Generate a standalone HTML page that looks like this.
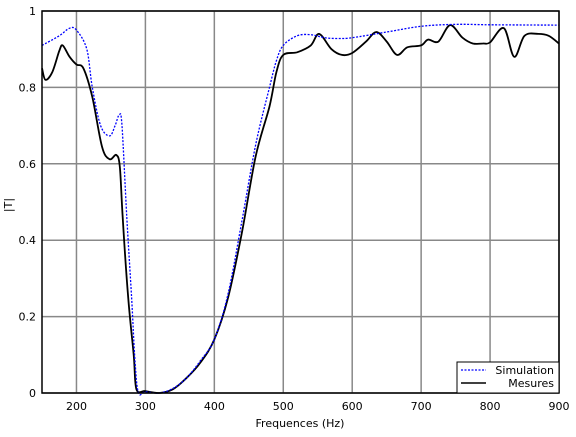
<!DOCTYPE html>
<html><head><meta charset="utf-8"><style>
html,body{margin:0;padding:0;background:#fff;}
svg text{font-family:"DejaVu Sans","Liberation Sans",sans-serif;font-size:11px;fill:#000;}
</style></head><body>
<svg id="chart" width="576" height="432" viewBox="0 0 576 432">
<g id="grid"></g>
<g id="series"></g>
<rect x="42" y="11" width="517" height="382" fill="none" stroke="#000" stroke-width="1.5"/>
<g id="ticks"></g>
<text x="300" y="427" text-anchor="middle">Frequences (Hz)</text>
<text x="12" y="205" text-anchor="middle" transform="rotate(-90 12 205)">|T|</text>
<g>
<rect x="457" y="362" width="102" height="31" fill="#fff" stroke="#000" stroke-width="1"/>
<line x1="461" y1="370" x2="486" y2="370" stroke="#0000ff" stroke-width="1.3" stroke-dasharray="2,1.5"/>
<text x="554" y="374" text-anchor="end">Simulation</text>
<line x1="461" y1="383" x2="486" y2="383" stroke="#000" stroke-width="1.5"/>
<text x="554" y="387" text-anchor="end">Mesures</text>
</g>
</svg>
<script>
const xTicks=[200,300,400,500,600,700,800,900];
const xTickLabels=["200","300","400","500","600","700","800","900"];
const yTicks=[0,0.2,0.4,0.6,0.8,1];
const yTickLabels=["0","0.2","0.4","0.6","0.8","1"];
const simFreq=[150,175,190,200,215,223,235,248,256,262,266,273,280,285,290,300,320,340,360,380,400,420,440,460,480,490,500,520,540,560,580,600,650,700,750,800,900];
const simVal=[0.91,0.935,0.955,0.95,0.90,0.80,0.70,0.673,0.70,0.728,0.70,0.46,0.25,0.08,0.0,0.003,0.0,0.012,0.04,0.085,0.14,0.26,0.45,0.65,0.80,0.87,0.91,0.935,0.938,0.93,0.928,0.93,0.945,0.96,0.965,0.964,0.963];
const mesFreq=[150,155,165,175,180,190,200,210,223,237,248,258,263,267,275,283,287,300,320,340,360,380,400,420,440,460,480,490,500,520,540,552,570,585,600,620,635,650,665,680,700,710,725,742,760,775,790,800,820,835,850,870,885,900];
const mesVal=[0.85,0.82,0.84,0.895,0.91,0.88,0.86,0.85,0.775,0.645,0.612,0.623,0.59,0.46,0.25,0.10,0.01,0.005,0.0,0.01,0.04,0.08,0.14,0.25,0.42,0.62,0.75,0.84,0.885,0.892,0.91,0.94,0.90,0.885,0.89,0.92,0.945,0.92,0.885,0.905,0.91,0.925,0.92,0.963,0.93,0.915,0.915,0.918,0.955,0.88,0.935,0.94,0.935,0.915];
const X0=42,X1=559,Y0=393,Y1=11;
function sx(f){return X0+(f-150)/(900-150)*(X1-X0);}
function sy(v){return Y0-v*(Y0-Y1);}
const NS="http://www.w3.org/2000/svg";
const grid=document.getElementById('grid'),ticks=document.getElementById('ticks'),ser=document.getElementById('series');
function mk(tag,attrs,parent){const e=document.createElementNS(NS,tag);for(const k in attrs)e.setAttribute(k,attrs[k]);parent.appendChild(e);return e;}
xTicks.forEach((t,i)=>{
 const g=mk('line',{x1:sx(t),x2:sx(t),y1:Y1,y2:Y0,stroke:'#888','stroke-width':1.5},grid);
 
 
 const tx=mk('text',{x:sx(t),y:410,'text-anchor':'middle'},ticks);
 tx.textContent=xTickLabels[i];
 
 
});
yTicks.forEach((t,i)=>{
 const g=mk('line',{x1:X0,x2:X1,y1:sy(t),y2:sy(t),stroke:'#888','stroke-width':1.5},grid);
 
 
 const tx=mk('text',{x:36,y:sy(t)+4,'text-anchor':'end'},ticks);
 tx.textContent=yTickLabels[i];
 
 
});
function path(fs,vs){
 const p=fs.map((f,i)=>[sx(f),sy(vs[i])]);
 let d='M'+p[0][0].toFixed(1)+','+p[0][1].toFixed(1);
 for(let i=0;i<p.length-1;i++){
  const a=p[Math.max(0,i-1)],b=p[i],c=p[i+1],e=p[Math.min(p.length-1,i+2)];
  const c1=[b[0]+(c[0]-a[0])/6,b[1]+(c[1]-a[1])/6],c2=[c[0]-(e[0]-b[0])/6,c[1]-(e[1]-b[1])/6];
  d+='C'+c1.map(v=>v.toFixed(1)).join(',')+' '+c2.map(v=>v.toFixed(1)).join(',')+' '+c[0].toFixed(1)+','+c[1].toFixed(1);
 }
 return d;
}
const ms=mk('path',{d:path(mesFreq,mesVal),fill:'none',stroke:'#000','stroke-width':1.8,'stroke-linejoin':'round'},ser);


const sm=mk('path',{d:path(simFreq,simVal),fill:'none',stroke:'#0000ff','stroke-width':1.3,'stroke-dasharray':'2,1.5','stroke-linejoin':'round'},ser);


</script>
</body></html>
